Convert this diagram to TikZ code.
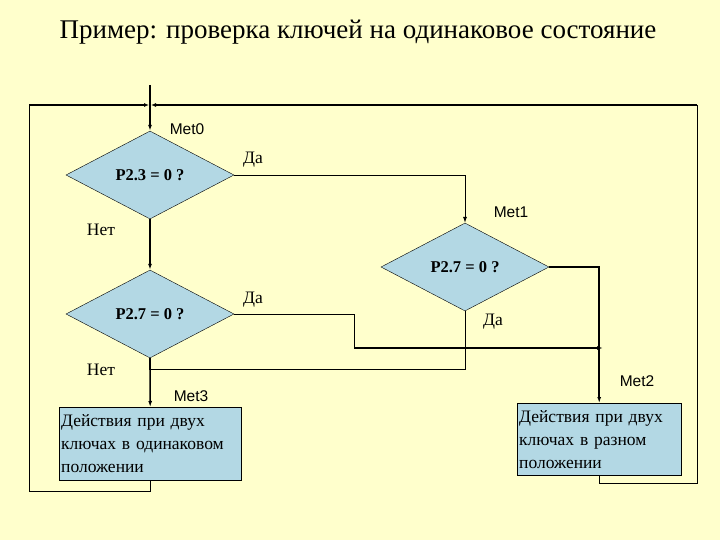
\documentclass[tikz,border=0pt]{standalone}
\usepackage{fontspec}
\setmainfont{Liberation Serif}
\newfontfamily\lsans{Liberation Sans}
\usetikzlibrary{shapes.geometric,arrows.meta}
\definecolor{bg}{RGB}{255,255,204}
\definecolor{fillb}{RGB}{179,216,228}
\begin{document}
\begin{tikzpicture}[x=1pt,y=-1pt,
 dia/.style={diamond,draw,fill=fillb,inner sep=0,minimum width=168pt,minimum height=88pt,aspect=1.9,font=\fontsize{16.5}{19}\selectfont\bfseries},
 box/.style={draw,fill=fillb,text width=#1,align=left,inner sep=2pt,font=\fontsize{17.5}{23}\selectfont,anchor=north west},
 lbl/.style={font=\fontsize{17.5}{20}\selectfont},
 met/.style={font=\fontsize{15.5}{18}\selectfont\lsans},
 thin/.style={line width=0.7pt},
 thick/.style={line width=1.6pt,-{Latex[length=6pt,width=4pt]}}]
\fill[bg] (0,0) rectangle (720,540);
\useasboundingbox (0,0) rectangle (720,540);
\node[font=\fontsize{27}{31}\selectfont] (title) at (358,32) {Пример: проверка ключей на одинаковое состояние};
\node[dia] (d1) at (150,175) {P2.3 = 0 ?};
\node[dia] (d2) at (465,267) {P2.7 = 0 ?};
\node[dia] (d3) at (150,314) {P2.7 = 0 ?};
\node[box=178pt,minimum height=73pt] (b1) at (59,407) {Действия при двух\\ключах в одинаковом\\положении};
\node[box=160pt,minimum height=72pt] (b2) at (517,403) {Действия при двух\\ключах в разном\\положении};
\coordinate (s) at (150,85);
\coordinate (j) at (150,105);
\coordinate (tl) at (29,105);
\coordinate (tr) at (697,105);
\draw[thick] (s) -- (d1.north);
\draw[line width=1.6pt,-{Latex[length=5pt,width=4pt]}] (tl) -- ([xshift=-1pt]j);
\draw[line width=1.6pt,-{Latex[length=5pt,width=4pt]}] (tr) -- ([xshift=1pt]j);
\draw[thin] (tl) -- (29,491) -| (b1.south);
\draw[thin] (tr) -- (697,483) -| (b2.south);
\draw[thin,-{Latex[length=6pt,width=4pt]}] (d1.east) -| (d2.north);
\draw[thick] (d1.south) -- (d3.north);
\draw[line width=1.6pt,-{Latex[length=6pt,width=4pt]}] (d2.east) -| (b2.north);
\draw[thin] (d3.east) -- (354,314) -- (354,348);
\draw[thick] (354,348) -- (603,348);
\draw[thin] (d2.south) |- (150,369);
\draw[thick] (d3.south) -- (b1.north);
\node[met] (m0) at (187,129) {Met0};
\node[met] (m1) at (511,212) {Met1};
\node[met] (m2) at (637,381) {Met2};
\node[met] (m3) at (191,396) {Met3};
\node[lbl] (y1) at (253,160) {Да};
\node[lbl] (y2) at (253,300) {Да};
\node[lbl] (y3) at (493,322) {Да};
\node[lbl] (n1) at (101,230) {Нет};
\node[lbl] (n2) at (101,370) {Нет};
\end{tikzpicture}
\end{document}
